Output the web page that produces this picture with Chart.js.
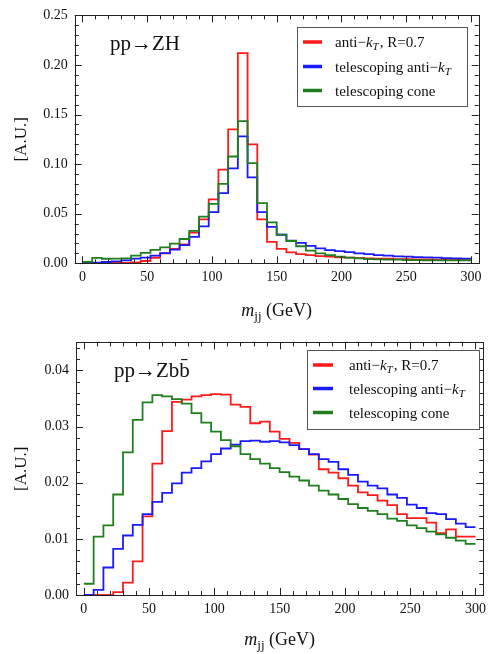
<!DOCTYPE html>
<html>
<head>
<meta charset="utf-8">
<script src="https://cdn.jsdelivr.net/npm/chart.js@4.4.1/dist/chart.umd.min.js"></script>
<style>
  html, body { margin: 0; padding: 0; background: #fff; }
  #wrap { position: relative; width: 492px; height: 654px; }
  canvas { position: absolute; left: 0; }
</style>
</head>
<body>
<div id="wrap">
  <canvas id="chart-zh" width="492" height="327" style="top:0px"></canvas>
  <canvas id="chart-zbb" width="492" height="327" style="top:327px"></canvas>
</div>
<script>
// bin edges in GeV (40 bins of 7.5 GeV)
var binEdges = [0, 7.5, 15, 22.5, 30, 37.5, 45, 52.5, 60, 67.5, 75, 82.5, 90, 97.5, 105, 112.5,
  120, 127.5, 135, 142.5, 150, 157.5, 165, 172.5, 180, 187.5, 195, 202.5, 210, 217.5,
  225, 232.5, 240, 247.5, 255, 262.5, 270, 277.5, 285, 292.5, 300];

var seriesNames = ["anti\u2212kT, R=0.7", "telescoping anti\u2212kT", "telescoping cone"];
var seriesColors = ["#ff1a1a", "#1a1aff", "#1f7f1f"];

var xTickValues = [0, 50, 100, 150, 200, 250, 300];
var zhYTicks = [0, 0.05, 0.10, 0.15, 0.20, 0.25];
var zbbYTicks = [0, 0.01, 0.02, 0.03, 0.04];

// pp -> ZH
var zhAntiKt = [0, 0, 0, 0.0003, 0.0005, 0.001, 0.0023, 0.0056, 0.010, 0.0145,
  0.019, 0.031, 0.0443, 0.0645, 0.0945, 0.135, 0.212, 0.120, 0.0443, 0.0217,
  0.0145, 0.011, 0.0093, 0.0083, 0.0073, 0.0067, 0.006, 0.0057, 0.0053, 0.005,
  0.0047, 0.0047, 0.0043, 0.0043, 0.004, 0.004, 0.0037, 0.0037, 0.0037, 0.0033];
var zhTeleKt = [0.0003, 0.0007, 0.0013, 0.002, 0.003, 0.0047, 0.0057, 0.0077, 0.0103, 0.0137,
  0.0183, 0.0267, 0.0373, 0.0517, 0.0707, 0.0957, 0.128, 0.0867, 0.0517, 0.0367,
  0.0288, 0.0228, 0.0206, 0.0176, 0.015, 0.0133, 0.0123, 0.0113, 0.010, 0.0093,
  0.0083, 0.0077, 0.007, 0.0067, 0.0063, 0.006, 0.0057, 0.0053, 0.005, 0.0047];
var zhTeleCone = [0.0015, 0.0055, 0.0046, 0.0047, 0.005, 0.0078, 0.0106, 0.0135, 0.016, 0.0198,
  0.0245, 0.0327, 0.047, 0.060, 0.080, 0.1077, 0.1433, 0.101, 0.0607, 0.0413,
  0.029, 0.0225, 0.0172, 0.0127, 0.010, 0.0083, 0.0067, 0.0057, 0.005, 0.0043,
  0.004, 0.0037, 0.0037, 0.0033, 0.0033, 0.003, 0.003, 0.003, 0.003, 0.003];

// pp -> Zbb
var zbbAntiKt = [0, 0, 0, 0.0005, 0.0022, 0.006, 0.014, 0.0234, 0.0292, 0.0344,
  0.0348, 0.0354, 0.0356, 0.0358, 0.0357, 0.0339, 0.0335, 0.0306, 0.0309, 0.0291,
  0.0278, 0.0271, 0.026, 0.025, 0.0224, 0.0218, 0.0208, 0.0195, 0.0183, 0.0178,
  0.0168, 0.016, 0.0144, 0.0137, 0.0137, 0.0129, 0.011, 0.0117, 0.0104, 0.0104];
var zbbTeleKt = [0, 0.0009, 0.0049, 0.0082, 0.0106, 0.0125, 0.0144, 0.0166, 0.0182, 0.0199,
  0.0218, 0.0226, 0.0238, 0.0251, 0.0261, 0.0268, 0.0274, 0.0275, 0.0273, 0.0274,
  0.0272, 0.0267, 0.026, 0.0251, 0.0242, 0.0237, 0.0224, 0.0214, 0.0202, 0.0195,
  0.019, 0.0179, 0.0173, 0.0161, 0.0155, 0.0146, 0.0144, 0.0135, 0.0127, 0.0121];
var zbbTeleCone = [0.002, 0.0104, 0.0124, 0.0179, 0.0254, 0.0312, 0.0343, 0.0356, 0.0354, 0.0349,
  0.0341, 0.0324, 0.0307, 0.0291, 0.0276, 0.0265, 0.0251, 0.0242, 0.0234, 0.0226,
  0.0219, 0.0211, 0.0204, 0.0195, 0.0186, 0.0179, 0.0171, 0.0162, 0.0155, 0.015,
  0.0144, 0.0136, 0.0132, 0.0124, 0.0119, 0.0113, 0.0108, 0.0102, 0.0097, 0.0091];

var FONT = "'Liberation Serif', 'Times New Roman', serif";

// step histogram: one point per left edge plus the closing right edge
function histPoints(vals) {
  var pts = [];
  for (let i = 0; i < vals.length; i++) {
    pts.push({ x: binEdges[i], y: vals[i] });
  }
  pts.push({ x: binEdges[vals.length], y: vals[vals.length - 1] });
  return pts;
}

// text with an italic k and subscript T
function drawRich(ctx, text, x, y, size) {
  var parts = text.split("kT");
  var cx = x;
  for (let i = 0; i < parts.length; i++) {
    ctx.font = size + "px " + FONT;
    ctx.fillText(parts[i], cx, y);
    cx += ctx.measureText(parts[i]).width;
    if (i < parts.length - 1) {
      ctx.font = "italic " + size + "px " + FONT;
      ctx.fillText("k", cx, y);
      cx += ctx.measureText("k").width;
      ctx.font = "italic " + Math.round(size * 0.7) + "px " + FONT;
      ctx.fillText("T", cx, y + size * 0.22);
      cx += ctx.measureText("T").width + 1;
    }
  }
}

// frame, inward ticks on all sides, titles and legend
var decorations = {
  id: "decorations",
  afterDatasetsDraw(chart, args, o) {
    var ctx = chart.ctx, a = chart.chartArea;
    var xs = chart.scales.x, ys = chart.scales.y;
    ctx.save();
    ctx.strokeStyle = "#222";
    ctx.lineWidth = 1;
    ctx.beginPath();
    for (let i = 0; i <= 30; i++) {
      let px = Math.round(xs.getPixelForValue(i * 10)) + 0.5;
      let len = (i % 5 === 0) ? 7 : 4;
      ctx.moveTo(px, a.bottom); ctx.lineTo(px, a.bottom - len);
      ctx.moveTo(px, a.top); ctx.lineTo(px, a.top + len);
    }
    for (let i = 0; i <= o.yMinorCount; i++) {
      let py = Math.round(ys.getPixelForValue(i * o.yMinorStep)) + 0.5;
      let len = (i % o.yMajorEvery === 0) ? 7 : 4;
      ctx.moveTo(a.left, py); ctx.lineTo(a.left + len, py);
      ctx.moveTo(a.right, py); ctx.lineTo(a.right - len, py);
    }
    ctx.stroke();
    ctx.strokeRect(Math.round(a.left) + 0.5, Math.round(a.top) + 0.5,
      Math.round(a.right - a.left), Math.round(a.bottom - a.top));

    ctx.fillStyle = "#111";
    ctx.textBaseline = "alphabetic";
    // process label
    ctx.font = "21px " + FONT;
    ctx.textAlign = "left";
    ctx.fillText(o.process, o.processX, o.processY);

    // y title
    ctx.save();
    ctx.translate(20, (a.top + a.bottom) / 2);
    ctx.rotate(-Math.PI / 2);
    ctx.textAlign = "center";
    ctx.font = "17px " + FONT;
    ctx.fillText("[A.U.]", 0, 6);
    ctx.restore();

    // x title: m_jj (GeV)
    ctx.font = "italic 18px " + FONT;
    var wm = ctx.measureText("m").width;
    ctx.font = "13px " + FONT;
    var wj = ctx.measureText("jj").width;
    ctx.font = "18px " + FONT;
    var wg = ctx.measureText(" (GeV)").width;
    var sx = (a.left + a.right) / 2 - (wm + wj + wg) / 2;
    ctx.font = "italic 18px " + FONT;
    ctx.fillText("m", sx, o.xTitleY);
    ctx.font = "13px " + FONT;
    ctx.fillText("jj", sx + wm, o.xTitleY + 4);
    ctx.font = "18px " + FONT;
    ctx.fillText(" (GeV)", sx + wm + wj, o.xTitleY);

    // legend
    var L = o.legend;
    ctx.fillStyle = "#fff";
    ctx.fillRect(L.x, L.y, L.w, L.h);
    ctx.strokeStyle = "#555";
    ctx.strokeRect(L.x + 0.5, L.y + 0.5, L.w, L.h);
    chart.data.datasets.forEach(function (ds, i) {
      var ry = L.rows[i];
      ctx.strokeStyle = ds.borderColor;
      ctx.lineWidth = 3.5;
      ctx.beginPath();
      ctx.moveTo(L.lineX0, ry); ctx.lineTo(L.lineX1, ry);
      ctx.stroke();
      ctx.fillStyle = "#111";
      drawRich(ctx, ds.label, L.textX, ry + 5, 15);
    });
    ctx.restore();
  }
};

function makeChart(id, series, yMax, yTicks, geom, deco) {
  var ctx = document.getElementById(id).getContext("2d");
  return new Chart(ctx, {
    type: "line",
    data: {
      datasets: series.map(function (vals, i) {
        return {
          label: seriesNames[i],
          data: histPoints(vals),
          borderColor: seriesColors[i],
          borderWidth: 1.8,
          pointRadius: 0,
          fill: false,
          stepped: "before",
          order: 2 - i
        };
      })
    },
    options: {
      responsive: false,
      animation: false,
      events: [],
      layout: { padding: { top: geom.top, right: geom.right, left: 0, bottom: 0 } },
      plugins: {
        legend: { display: false },
        tooltip: { enabled: false },
        decorations: deco
      },
      scales: {
        x: {
          type: "linear",
          min: -6,
          max: 306,
          afterBuildTicks: function (s) { s.ticks = xTickValues.map(function (v) { return { value: v }; }); },
          afterFit: function (s) { s.height = geom.xH; },
          grid: { display: false, drawTicks: false, tickLength: 0 },
          border: { display: false },
          ticks: {
            autoSkip: false, maxRotation: 0, padding: 6, color: "#111",
            font: { family: FONT, size: 14 },
            callback: function (v) { return String(v); }
          }
        },
        y: {
          min: 0,
          max: yMax,
          afterBuildTicks: function (s) { s.ticks = yTicks.map(function (v) { return { value: v }; }); },
          afterFit: function (s) { s.width = geom.yW; },
          grid: { display: false, drawTicks: false, tickLength: 0 },
          border: { display: false },
          ticks: {
            autoSkip: false, padding: 7, color: "#111",
            font: { family: FONT, size: 14 },
            callback: function (v) { return v.toFixed(2); }
          }
        }
      }
    },
    plugins: [decorations]
  });
}

makeChart("chart-zh", [zhAntiKt, zhTeleKt, zhTeleCone], 0.25, zhYTicks,
  { top: 14, right: 13.3, yW: 74.7, xH: 63.7 },
  {
    yMinorStep: 0.01, yMinorCount: 25, yMajorEvery: 5,
    process: "pp\u2192ZH", processX: 110, processY: 50,
    xTitleY: 316,
    legend: { x: 297, y: 27, w: 170, h: 79, rows: [42, 66.5, 90.5], lineX0: 303, lineX1: 322, textX: 335 }
  });

makeChart("chart-zbb", [zbbAntiKt, zbbTeleKt, zbbTeleCone], 0.045, zbbYTicks,
  { top: 11.7, right: 2.7, yW: 76, xH: 59 },
  {
    yMinorStep: 0.002, yMinorCount: 22, yMajorEvery: 5,
    process: "pp\u2192Zbb\u0304", processX: 114, processY: 50,
    xTitleY: 317.5,
    legend: { x: 307, y: 23, w: 172, h: 79, rows: [38, 61.5, 85.5], lineX0: 313, lineX1: 333, textX: 349 }
  });
</script>
</body>
</html>
